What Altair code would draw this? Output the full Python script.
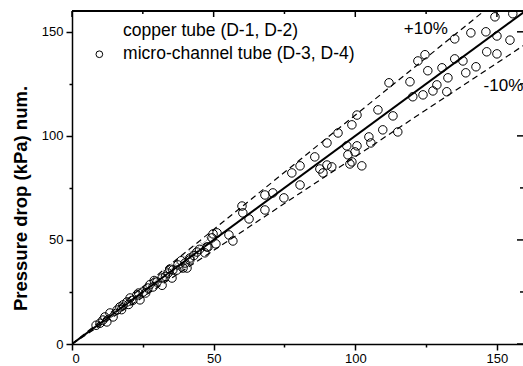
import altair as alt
import pandas as pd

# ---- data ----
series_names = ["copper tube (D-1, D-2)", "micro-channel tube (D-3, D-4)"]

micro_x = [149.3, 155.6, 140.8, 146.1, 150.0, 154.6, 135.1, 124.6, 122.1, 125.6,
           130.6, 135.1, 138.0, 146.4, 150.0, 142.6, 139.0, 132.7, 128.8, 119.3,
           120.3, 123.9, 127.4, 132.3, 111.9, 100.6, 108.0, 113.3, 98.8, 93.9,
           90.0, 85.7, 80.5, 109.7, 115.0, 104.8, 105.5, 100.6, 99.9, 97.4,
           98.8, 102.3, 90.0, 91.7, 88.6, 87.5, 77.6, 97.0, 98.1, 80.5,
           74.8, 68.1, 70.9, 68.1, 60.0, 60.3, 62.5, 49.8, 55.4, 56.8,
           50.8, 48.0, 41.6, 39.2,
           51.2, 49.4, 47.6, 46.9, 44.1, 41.6, 39.9, 40.6, 37.4, 35.6,
           33.9, 35.3, 31.8, 30.0, 28.6, 31.8, 26.8, 25.1, 22.9, 24.0,
           20.5, 19.4, 18.0, 16.9, 15.9, 13.4, 14.5, 11.6, 10.9, 9.9,
           12.3, 21.5, 23.5, 27.5, 29.0, 33.0, 37.0, 43.0, 45.0, 38.5,
           17.5, 8.5, 20.0, 26.0, 34.5]
micro_y = [157.2, 158.7, 149.5, 150.0, 148.0, 146.0, 146.6, 139.0, 136.0, 131.3,
           132.7, 137.0, 136.0, 140.4, 139.4, 133.2, 130.3, 127.9, 124.5, 126.0,
           118.8, 119.7, 121.6, 121.2, 125.5, 110.0, 112.5, 109.6, 105.3, 101.4,
           96.6, 89.9, 85.6, 102.9, 101.9, 99.5, 96.6, 95.2, 92.3, 90.9,
           87.5, 85.6, 86.0, 85.1, 82.2, 84.1, 82.2, 95.2, 86.5, 76.4,
           70.2, 71.6, 72.6, 64.4, 66.3, 63.0, 60.1, 52.9, 52.4, 49.5,
           48.1, 46.6, 40.4, 36.5,
           53.4, 51.0, 46.6, 43.8, 44.2, 41.3, 38.9, 36.5, 38.0, 35.6,
           34.1, 31.7, 31.7, 29.8, 27.4, 28.2, 26.9, 25.0, 23.6, 21.2,
           22.1, 20.2, 18.8, 17.8, 16.3, 14.9, 13.0, 13.0, 11.5, 10.0,
           10.6, 21.0, 24.5, 28.5, 30.5, 32.5, 35.5, 42.5, 45.5, 40.0,
           16.5, 9.0, 19.0, 24.5, 36.0]

copper_x = [44.0, 46.0, 48.0, 42.0, 40.0, 36.0, 30.0, 25.0, 20.0, 15.0, 12.0, 33.0]
copper_y = [46.0, 48.0, 50.5, 44.0, 41.5, 37.5, 31.0, 26.0, 20.5, 15.5, 12.5, 34.5]

ref_x = [0, 160]
ref_y_equal = [0, 160]
ref_y_plus = [0, 176]
ref_y_minus = [0, 144]

axis_ticks = [0, 25, 50, 75, 100, 125, 150]
major_ticks = [0, 50, 100, 150]
minor_ticks = [25, 75, 125]

annot_x = [124.9, 152.3]
annot_y = [151.4, 124.0]
annot_text = ["+10%", "-10%"]

X_DOMAIN = [0, 159.2]
Y_DOMAIN = [0, 160]
W, H = 451, 333
FONT = "Liberation Sans"

# ---- tables ----
micro_df = pd.DataFrame({"x": micro_x, "y": micro_y, "series": series_names[1]})
copper_df = pd.DataFrame({"x": copper_x, "y": copper_y})
solid_df = pd.DataFrame({"x": ref_x, "y": ref_y_equal})
dash_df = pd.concat([
    pd.DataFrame({"x": ref_x, "y": ref_y_plus, "k": "plus"}),
    pd.DataFrame({"x": ref_x, "y": ref_y_minus, "k": "minus"}),
])
annot_df = pd.DataFrame({"x": annot_x, "y": annot_y, "t": annot_text})
major_df = pd.DataFrame({"v": major_ticks})
minor_df = pd.DataFrame({"v": minor_ticks})

tick_size = {"condition": {"test": "datum.value % 50 === 0", "value": 6}, "value": 3}

x_axis = alt.Axis(values=axis_ticks, labelExpr="datum.value % 50 === 0 ? datum.label : ''",
                  tickSize=tick_size, title=None, grid=False, labelFontSize=13,
                  labelFont=FONT, labelColor="black", labelPadding=2,
                  domainColor="black", domainWidth=1.5, tickColor="black", tickWidth=1.5)
y_axis = alt.Axis(values=axis_ticks, labelExpr="datum.value % 50 === 0 ? datum.label : ''",
                  tickSize=tick_size, title="Pressure drop (kPa) num.", grid=False,
                  labelFontSize=13, labelFont=FONT, labelColor="black", labelPadding=3,
                  domainColor="black", domainWidth=1.5, tickColor="black", tickWidth=1.5,
                  titleFont=FONT, titleFontSize=18.5, titleFontWeight="bold",
                  titleColor="black", titleX=-52, titleY=187, titleAlign="center",
                  titleBaseline="middle", titleAngle=270)

xs = alt.Scale(domain=X_DOMAIN, nice=False, zero=False)
ys = alt.Scale(domain=Y_DOMAIN, nice=False, zero=False)


def X(f="x"):
    return alt.X(f"{f}:Q", scale=xs, axis=x_axis)


def Y(f="y"):
    return alt.Y(f"{f}:Q", scale=ys, axis=y_axis)


solid = alt.Chart(solid_df).mark_line(color="black", strokeWidth=2, clip=True).encode(x=X(), y=Y())
dashed = alt.Chart(dash_df).mark_line(color="black", strokeWidth=1.2, strokeDash=[6, 4], clip=True).encode(
    x=X(), y=Y(), detail="k:N")

copper = alt.Chart(copper_df).mark_point(
    shape="M-1,-1L1,1M-1,1L1,-1", size=28, color="#8a8a8a", strokeWidth=1, filled=False, clip=True
).encode(x=X(), y=Y())

micro = alt.Chart(micro_df).mark_point(
    filled=False, color="black", size=72, strokeWidth=1, opacity=1, clip=True
).encode(
    x=X(), y=Y(),
    shape=alt.Shape("series:N", scale=alt.Scale(domain=series_names, range=["M0,0", "circle"]),
                    legend=alt.Legend(orient="none", legendX=18.6, legendY=11, title=None,
                                      labelFontSize=17.5, labelFont=FONT, labelColor="black",
                                      labelLimit=0,
                                      symbolSize=45, symbolStrokeWidth=1, symbolStrokeColor="black",
                                      labelOffset=15, rowPadding=4.5, padding=0)),
)

annot = alt.Chart(annot_df).mark_text(font=FONT, fontSize=17, color="black",
                                      align="center", baseline="middle").encode(
    x=X(), y=Y(), text="t:N")

top_border = alt.Chart(major_df).mark_rule(color="black", strokeWidth=1.5).encode(
    x=alt.value(0), x2=alt.value(W), y=alt.value(0))
top_major = alt.Chart(major_df).mark_rule(color="black", strokeWidth=1.5).encode(
    x=X("v"), y=alt.value(0), y2=alt.value(6))
top_minor = alt.Chart(minor_df).mark_rule(color="black", strokeWidth=1.5).encode(
    x=X("v"), y=alt.value(0), y2=alt.value(3))
right_major = alt.Chart(major_df).mark_rule(color="black", strokeWidth=1.5).encode(
    y=Y("v"), x=alt.value(W), x2=alt.value(W - 6))
right_minor = alt.Chart(minor_df).mark_rule(color="black", strokeWidth=1.5).encode(
    y=Y("v"), x=alt.value(W), x2=alt.value(W - 3))

chart = alt.layer(
    dashed, solid, copper, micro, annot, top_border, top_major, top_minor, right_major, right_minor
).properties(
    width=W, height=H,
    padding={"left": 72, "top": 11, "right": 0, "bottom": 22},
    autosize=alt.AutoSizeParams(type="none"),
    background="white",
).configure_view(stroke=None)

chart.save("out.html", embed_options={"renderer": "svg", "actions": False})
